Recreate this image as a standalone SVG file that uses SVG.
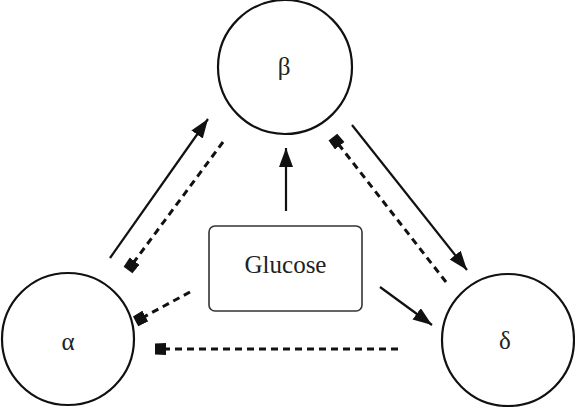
<svg xmlns="http://www.w3.org/2000/svg" width="575" height="407" viewBox="0 0 575 407">
<style>
.node circle{fill:#fff;stroke:#111;stroke-width:2.2}
.box rect{fill:#fff;stroke:#333;stroke-width:1.6}
.lbl{font-family:'Liberation Serif','DejaVu Serif',serif;font-size:25px;fill:#222;text-anchor:middle}
.act{stroke:#111;stroke-width:2.2;fill:none;marker-end:url(#arrow)}
.inh{stroke:#111;stroke-width:3;stroke-dasharray:7 5;fill:none;marker-end:url(#sq)}
</style>
<defs>
<marker id="arrow" markerUnits="userSpaceOnUse" markerWidth="22" markerHeight="16" refX="19" refY="7" orient="auto">
<path d="M0,0 L19,7 L0,14 Z" fill="#111"/>
</marker>
<marker id="sq" markerUnits="userSpaceOnUse" markerWidth="14" markerHeight="14" refX="6" refY="6" orient="auto">
<path d="M0,0 L11,0.5 L11,11.5 L0,12 Z" fill="#111"/>
</marker>
</defs>
<g id="connectors">
<line class="act" x1="110" y1="258" x2="208" y2="119"/>
<line class="inh" x1="223" y1="142" x2="131" y2="266"/>
<line class="act" x1="286" y1="211" x2="286" y2="148"/>
<line class="act" x1="352" y1="125" x2="467" y2="270"/>
<line class="inh" x1="446" y1="282" x2="336" y2="141"/>
<line class="act" x1="380" y1="287" x2="432" y2="325"/>
<line class="inh" x1="190" y1="292" x2="140" y2="319"/>
<line class="inh" x1="398" y1="349" x2="160" y2="349"/>
</g>
<g id="beta" class="node">
<circle cx="285" cy="67" r="67"/>
<text class="lbl" x="284" y="75" font-family="Liberation Serif, serif">β</text>
</g>
<g id="alpha" class="node">
<circle cx="68" cy="339" r="66"/>
<text class="lbl" x="68" y="350" font-family="Liberation Serif, serif">α</text>
</g>
<g id="delta" class="node">
<circle cx="508" cy="340" r="66"/>
<text class="lbl" x="505" y="349" font-family="Liberation Serif, serif">δ</text>
</g>
<g id="glucose" class="box">
<rect x="209" y="226" width="153" height="85" rx="6"/>
<text class="lbl" x="285.5" y="273" font-family="Liberation Serif, serif">Glucose</text>
</g>
</svg>
